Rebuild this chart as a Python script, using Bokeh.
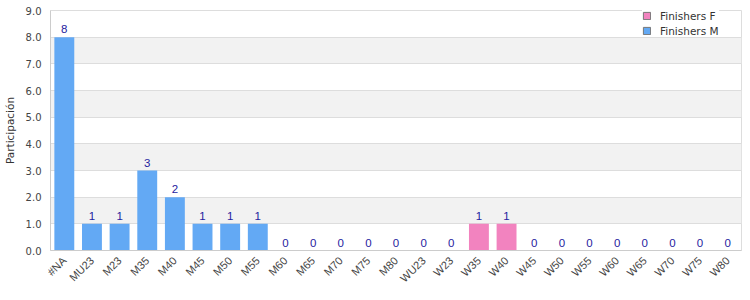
from math import pi
from bokeh.plotting import figure
from bokeh.models import ColumnDataSource, Legend, LegendItem, FixedTicker, NumeralTickFormatter, LabelSet
from bokeh.core.properties import value
from bokeh.embed import file_html
from bokeh.resources import INLINE

categories = ["#NA", "MU23", "M23", "M35", "M40", "M45", "M50", "M55", "M60", "M65", "M70", "M75", "M80",
              "WU23", "W23", "W35", "W40", "W45", "W50", "W55", "W60", "W65", "W70", "W75", "W80"]
finishers_m = [8, 1, 1, 3, 2, 1, 1, 1, 0, 0, 0, 0, 0, 0, 0, 0, 0, 0, 0, 0, 0, 0, 0, 0, 0]
finishers_f = [0, 0, 0, 0, 0, 0, 0, 0, 0, 0, 0, 0, 0, 0, 0, 1, 1, 0, 0, 0, 0, 0, 0, 0, 0]
y_ticks = [0, 1, 2, 3, 4, 5, 6, 7, 8, 9]

totals = [m + f for m, f in zip(finishers_m, finishers_f)]
src = ColumnDataSource(dict(cat=categories, M=finishers_m, F=finishers_f, total=totals,
                            label=[str(t) for t in totals],
                            none=[float("nan")] * len(categories)))

BLUE = "#63a9f4"
PINK = "#f283bf"

p = figure(x_range=categories, y_range=(0, 9), width=750, height=300,
           output_backend="svg", toolbar_location=None,
           min_border_left=40, min_border_right=9, min_border_top=10, min_border_bottom=50)

p.vbar_stack(["F", "M"], x="cat", width=0.72, color=[PINK, BLUE], line_color=None, source=src)

labels = LabelSet(x="cat", y="total", text="label", source=src, text_align="center",
                  text_baseline="bottom", y_offset=4, text_color="#1f22a0",
                  text_font=value("Liberation Sans"), text_font_size="11.5px")
p.add_layout(labels)

# legend-only glyphs (no drawn data)
rf = p.vbar(x="cat", top="none", width=0.72, source=src, fill_color=PINK, line_color="#777777")
rm = p.vbar(x="cat", top="none", width=0.72, source=src, fill_color=BLUE, line_color="#777777")
legend = Legend(items=[LegendItem(label="Finishers F", renderers=[rf]),
                       LegendItem(label="Finishers M", renderers=[rm])],
                location=(592, 213), orientation="vertical",
                background_fill_color="white", background_fill_alpha=1,
                border_line_color=None, label_text_font="DejaVu Sans", label_text_font_size="10.5px",
                label_text_color="#333333", glyph_width=9, glyph_height=9, label_standoff=9,
                label_height=13, spacing=2, padding=7, margin=0)
p.add_layout(legend)

p.yaxis.ticker = FixedTicker(ticks=y_ticks)
p.yaxis.formatter = NumeralTickFormatter(format="0.0")
p.yaxis.axis_label = "Participación"
p.yaxis.axis_label_text_font = "DejaVu Sans"
p.yaxis.axis_label_text_font_style = "normal"
p.yaxis.axis_label_text_font_size = "10.5px"
p.yaxis.axis_label_text_color = "#333333"
p.yaxis.axis_label_standoff = 7
p.yaxis.major_label_text_font = "DejaVu Sans"
p.yaxis.major_label_text_font_size = "10px"
p.yaxis.major_label_text_color = "#444444"
p.yaxis.major_label_standoff = 9
p.yaxis.axis_line_color = "#cccccc"
p.yaxis.major_tick_line_color = None
p.yaxis.major_tick_out = 0
p.yaxis.major_tick_in = 0
p.yaxis.minor_tick_line_color = None
p.yaxis.minor_tick_out = 0

p.xaxis.major_label_orientation = pi / 4
p.xaxis.major_label_text_font = "Liberation Sans"
p.xaxis.major_label_text_font_size = "11px"
p.xaxis.major_label_text_color = "#444444"
p.xaxis.major_label_standoff = 8
p.xaxis.axis_line_color = "#cccccc"
p.xaxis.major_tick_line_color = None
p.xaxis.major_tick_out = 0
p.xaxis.major_tick_in = 0

p.xgrid.grid_line_color = None
p.ygrid.grid_line_color = "#dddddd"
p.ygrid.band_fill_color = "#f2f2f2"
p.ygrid.band_fill_alpha = 1
p.outline_line_color = "#dddddd"
p.x_range.range_padding = 0

open("out.html", "w").write(file_html(p, INLINE))
